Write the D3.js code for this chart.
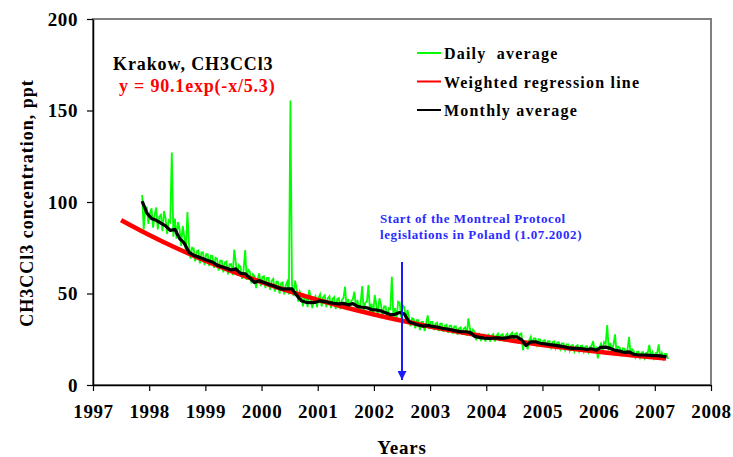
<!DOCTYPE html>
<html>
<head>
<meta charset="utf-8">
<script src="https://cdn.jsdelivr.net/npm/d3@7"></script>
<style>
  html, body { margin: 0; padding: 0; background: #fff; }
  svg { display: block; }
  text { font-family: "Liberation Serif", "Times New Roman", serif; font-weight: bold; }
</style>
</head>
<body>
<svg id="chart" width="733" height="457"></svg>
<script>
// Axis ticks
const yearTicks = [1997, 1998, 1999, 2000, 2001, 2002, 2003, 2004, 2005, 2006, 2007, 2008];
const valueTicks = [0, 50, 100, 150, 200];

// Monthly average of CH3CCl3 (ppt), one value per month from late 1997
const monthlyStart = 1997.875;
const monthlyStep = 1 / 12;
const monthlyValues = [
  100.5, 94, 91, 90, 88.5, 87, 84.5, 85, 80, 77.5, 72.5, 70.8,
  70, 69, 68, 67.2, 65.5, 64.6, 63.8, 62.8, 63.5, 61, 60.8, 58.5,
  56, 57, 56, 55, 54.2, 53.2, 52.4, 52.6, 52.5, 49, 46, 45.2,
  45, 45.2, 46, 45.6, 45, 44.6, 44.3, 44.6, 43.8, 44.5, 43, 42.5,
  42.2, 41.2, 41, 40.5, 39.5, 38.5, 38.6, 39.6, 38.8, 34.5, 33.6, 32.8,
  32.2, 32.6, 32, 31.7, 31, 30.6, 30.2, 29.6, 29.2, 29.1, 28.8, 26.6,
  26, 25.6, 25.5, 25.6, 25.8, 25.5, 25.9, 26.4, 26.3, 24.8, 21.6, 23.6,
  23.6, 22.8, 22.5, 22.1, 21.8, 21.4, 20.9, 20.3, 20, 20, 19.8, 19.4,
  19.8, 19, 20.6, 20.7, 20, 19, 18.5, 17.8, 18.1, 16.8, 16.4, 16.4,
  16.3, 16.1, 16, 15.8, 15.4
];

// Daily average series, sampled every 1/36 of a year (spikes kept)
const dailyStart = 1997.875;
const dailyStep = 1 / 36;
const dailyValues = [
  103.8, 85, 97,   97, 88, 94,   96.5, 86, 93,   97, 85, 92,
  93, 84, 95,   91, 82.5, 90,   89, 127, 81,   91, 80, 89,
  85, 76, 87,   81, 73, 94.5,   77, 69, 75,   74.5, 67.5, 73,
  73.5, 66.5, 72.5,   72.5, 65.5, 71.5,   71.5, 65, 70.5,   70.5, 64, 69.5,
  69, 62.5, 68,   68, 61.5, 67,   67.5, 60.5, 66,   66, 60, 74,
  67, 60, 65.5,   64.5, 58, 63,   73.8, 57.5, 63,   62, 55.5, 60.5,
  59.5, 53, 58,   61, 54, 59,   59.5, 53, 58.5,   58.5, 52, 57,
  58, 51, 56.5,   56.5, 50, 55.5,   56, 49.5, 54.5,   56.5, 49.5, 155.5,
  55, 48.5, 57,   52.5, 45.5, 51,   49, 43, 48,   48.5, 42.5, 52,
  48, 42, 47,   48.5, 42.5, 47.5,   49.5, 43, 48,   49, 42.5, 47.5,
  48.5, 42, 47,   48, 41.5, 47,   47.5, 41.5, 46.5,   47.5, 53.7, 42,
  47, 41, 46,   47, 51, 42,   46.5, 40, 45,   54, 39.5, 45,
  45.5, 54.6, 39.5,   44.5, 38.5, 49.2,   44, 38, 47.4,   44, 37.5, 43,
  43, 36.5, 42,   41.5, 59.2, 36,   42, 36, 45.5,   45, 37, 43.5,
  42.5, 35, 41,   37, 32, 36.5,   36, 31, 35.5,   35.5, 30, 34.5,
  34.5, 29.5, 34,   38, 30.5, 34.5,   34.5, 30, 33.5,   34, 29.5, 33.5,
  33.5, 29, 32.5,   33, 28.5, 32.5,   32.5, 28, 32,   32, 27.5, 31,
  31.5, 27.5, 30.8,   31.5, 27, 36.4,   31, 26.8, 30.2,   29, 24.5, 28,
  28, 24, 27.5,   27.5, 23.8, 27,   27.5, 23.8, 27,   27.8, 23.8, 27,
  28, 24, 27.3,   27.8, 23.8, 27,   28, 24, 27.5,   28.5, 24.5, 28,
  28.5, 24.5, 27.8,   28.2, 19, 24,   23.5, 19.5, 24.5,   26.4, 22, 25.5,
  25.5, 22, 25,   24.8, 21, 24.2,   24.5, 20.8, 24,   24, 20.5, 23.5,
  23.8, 20.2, 23.2,   23.3, 19.8, 22.8,   22.8, 19.3, 22.2,   22.2, 18.8, 21.6,
  21.8, 18.5, 21.3,   21.8, 18.5, 21.3,   21.5, 18.3, 21,   21.2, 18, 20.7,
  21.5, 24, 18.2,   21, 14.5, 20.5,   22.5, 18.5, 23.5,   22.5, 32.8, 19,
  23, 18.5, 22,   27.7, 17.5, 21,   20.5, 17, 20,   19.8, 16.2, 19.5,
  26.2, 16.5, 19.5,   18.5, 15.3, 18,   18.2, 15, 17.8,   18, 14.8, 17.6,
  17.8, 21.9, 15,   17.8, 14.7, 17.4,   17.5, 22.2, 14.6,   17.5, 14.4, 17,
  17, 14.2
];

// Weighted regression line y = 90.1exp(-x/5.3), x in years from 1997.5
const regressionYears = [1997.5, 1998, 1998.5, 1999, 1999.5, 2000, 2000.5, 2001, 2001.5, 2002, 2002.5,
  2003, 2003.5, 2004, 2004.5, 2005, 2005.5, 2006, 2006.5, 2007, 2007.2];
const regressionValues = [90.1, 81.99, 74.61, 67.89, 61.78, 56.22, 51.16, 46.55, 42.36, 38.55, 35.08,
  31.92, 29.05, 26.43, 24.05, 21.89, 19.92, 18.12, 16.49, 15.01, 14.45];

const legendLabels = ["Daily  average", "Weighted regression line", "Monthly average"];
const legendColors = ["#00ff00", "#ff0000", "#000000"];

const svg = d3.select("#chart");
const margin = { left: 93, right: 711, top: 19, bottom: 385 };

const x = d3.scaleLinear().domain([1997, 2008]).range([margin.left, margin.right]);
const y = d3.scaleLinear().domain([0, 200]).range([margin.bottom, margin.top]);

// Plot-area frame
svg.append("rect")
  .attr("x", margin.left).attr("y", margin.top)
  .attr("width", margin.right - margin.left).attr("height", margin.bottom - margin.top)
  .attr("fill", "none").attr("stroke", "#808080").attr("stroke-width", 2);

// Series
const dailyPts = dailyValues.map((v, i) => [dailyStart + i * dailyStep, v]);
const monthlyPts = monthlyValues.map((v, i) => [monthlyStart + i * monthlyStep, v]);
const regPts = regressionYears.map((t, i) => [t, regressionValues[i]]);

const line = d3.line().x(d => x(d[0])).y(d => y(d[1]));

svg.append("path").datum(dailyPts)
  .attr("d", line).attr("fill", "none")
  .attr("stroke", "#00ff00").attr("stroke-width", 1.8).attr("stroke-linejoin", "miter");

svg.append("path").datum(regPts)
  .attr("d", d3.line().x(d => x(d[0])).y(d => y(d[1])).curve(d3.curveNatural))
  .attr("fill", "none").attr("stroke", "#ff0000").attr("stroke-width", 4.5);

svg.append("path").datum(monthlyPts)
  .attr("d", line).attr("fill", "none")
  .attr("stroke", "#000").attr("stroke-width", 3.2).attr("stroke-linejoin", "round");

// Axes
const xAxis = svg.append("g").attr("transform", `translate(0,${margin.bottom})`)
  .call(d3.axisBottom(x).tickValues(yearTicks).tickFormat(d3.format("d")).tickSize(6).tickSizeOuter(0));
const yAxis = svg.append("g").attr("transform", `translate(${margin.left},0)`)
  .call(d3.axisLeft(y).tickValues(valueTicks).tickSize(6).tickSizeOuter(0));

[xAxis, yAxis].forEach(g => {
  g.select(".domain").attr("stroke", "#000").attr("stroke-width", 1.5);
  g.selectAll(".tick line").attr("stroke", "#000").attr("stroke-width", 1.2);
  g.selectAll(".tick text")
    .attr("fill", "#000")
    .style("font-family", "'Liberation Serif', serif")
    .style("font-weight", "bold")
    .style("font-size", "19px")
    .style("letter-spacing", "0.6px");
});
xAxis.selectAll(".tick text").attr("dy", null).attr("y", 33);
yAxis.selectAll(".tick text").attr("x", -15);

// Axis titles
svg.append("text")
  .attr("x", 402).attr("y", 454)
  .attr("text-anchor", "middle")
  .style("font-size", "19px").style("letter-spacing", "0.8px")
  .text("Years");

svg.append("text")
  .attr("transform", "translate(33,203) rotate(-90)")
  .attr("text-anchor", "middle")
  .style("font-size", "18px").style("letter-spacing", "1px")
  .text("CH3CCl3 concentration, ppt");

// Station label and regression equation
svg.append("text")
  .attr("x", 113).attr("y", 70)
  .style("font-size", "18px").style("letter-spacing", "0.9px")
  .attr("fill", "#000")
  .text("Krakow, CH3CCl3");

svg.append("text")
  .attr("x", 119).attr("y", 92)
  .style("font-size", "18px").style("letter-spacing", "0.8px")
  .attr("fill", "#ff0000")
  .text("y = 90.1exp(-x/5.3)");

// Legend
const legend = svg.append("g");
legendLabels.forEach((lab, i) => {
  const ly = 53 + i * 28.5;
  legend.append("line")
    .attr("x1", 417).attr("x2", 441).attr("y1", ly).attr("y2", ly)
    .attr("stroke", legendColors[i]).attr("stroke-width", 2);
  legend.append("text")
    .attr("x", 444).attr("y", ly + 6)
    .style("font-size", "16px").style("letter-spacing", "1.2px")
    .style("white-space", "pre")
    .attr("fill", "#000")
    .text(lab);
});

// Montreal Protocol annotation
const eventYear = 2002.5;
svg.append("text")
  .attr("x", 380).attr("y", 223)
  .style("font-size", "13px").style("letter-spacing", "0.6px")
  .attr("fill", "#2b2bff")
  .text("Start of the Montreal Protocol");
svg.append("text")
  .attr("x", 380).attr("y", 239)
  .style("font-size", "13px").style("letter-spacing", "0.6px")
  .attr("fill", "#2b2bff")
  .text("legislations in Poland (1.07.2002)");

svg.append("defs").append("marker")
  .attr("id", "arrowhead")
  .attr("viewBox", "0 0 10 10")
  .attr("refX", 10).attr("refY", 5)
  .attr("markerWidth", 4.5).attr("markerHeight", 4.5)
  .attr("markerUnits", "strokeWidth")
  .attr("orient", "auto")
  .append("path").attr("d", "M0,0 L10,5 L0,10 Z").attr("fill", "#1a1aff");

svg.append("line")
  .attr("x1", x(eventYear)).attr("x2", x(eventYear))
  .attr("y1", 262).attr("y2", 380)
  .attr("stroke", "#1a1aff").attr("stroke-width", 2)
  .attr("marker-end", "url(#arrowhead)");
</script>
</body>
</html>
